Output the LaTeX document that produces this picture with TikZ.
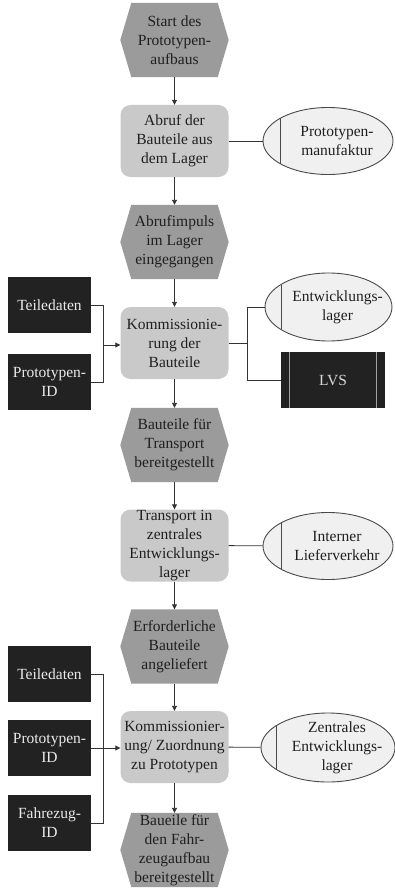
\documentclass[tikz,border=0pt]{standalone}
\usepackage{fontspec}
\setmainfont{Liberation Serif}
\usetikzlibrary{arrows.meta,backgrounds,shapes.geometric}
\definecolor{evgray}{HTML}{9B9B9B}
\definecolor{fngray}{HTML}{C9C9C9}
\definecolor{orgfill}{HTML}{F0F0F0}
\definecolor{orgline}{HTML}{4A4A4A}
\definecolor{datafill}{HTML}{222222}
\definecolor{wirecol}{HTML}{333333}
% hexagonal event shape drawn around a (borderless) rectangular node
\newcommand{\evhex}[1]{\fill[evgray] (#1.west) -- ([xshift=11pt]#1.north west) -- ([xshift=-11pt]#1.north east) -- (#1.east) -- ([xshift=-11pt]#1.south east) -- ([xshift=11pt]#1.south west) -- cycle;}
% vertical divider inside an organisation ellipse
\newcommand{\orgbar}[3]{\draw[orgline,line width=0.9pt] ([xshift=#2pt,yshift=#3pt]#1.west) -- ([xshift=#2pt,yshift=-#3pt]#1.west);}
\begin{document}
\begin{tikzpicture}[x=1pt,y=-1pt,
  font=\fontsize{15.5}{19}\selectfont,
  txt/.style={align=center,inner sep=0pt,text=black!88},
  event/.style={txt,minimum width=108pt,minimum height=74pt},
  func/.style={txt,fill=fngray,rounded corners=10pt,minimum width=108pt,minimum height=72pt},
  org/.style={ellipse,draw=orgline,line width=0.9pt,fill=orgfill,minimum width=130pt,minimum height=67pt,inner sep=0pt},
  data/.style={align=center,fill=datafill,text=white!92!black,minimum width=83pt,minimum height=56pt,inner sep=0pt},
  wire/.style={draw=wirecol,line width=0.9pt},
  flow/.style={wire,-{Triangle[length=5pt,width=5pt]}}
]
\useasboundingbox (0,0) rectangle (395,888);

% main process chain
\node[event] (e1) at (174.5,40)    {Start des\\Prototypen-\\aufbaus};
\node[func]  (f1) at (174.5,141)   {Abruf der\\Bauteile aus\\dem Lager};
\node[event] (e2) at (174.5,242)   {Abrufimpuls\\im Lager\\eingegangen};
\node[func]  (f2) at (174.5,343)   {Kommissionie-\\rung der\\Bauteile};
\node[event] (e3) at (174.5,445)   {Bauteile für\\Transport\\bereitgestellt};
\node[func]  (f3) at (174.5,545.5) {Transport in\\zentrales\\Entwicklungs-\\lager};
\node[event] (e4) at (174.5,646.5) {Erforderliche\\Bauteile\\angeliefert};
\node[func]  (f4) at (174.5,747)   {Kommissionier-\\ung/ Zuordnung\\zu Prototypen};
\node[event] (e5) at (174.5,850)   {Baueile für\\den Fahr-\\zeugaufbau\\bereitgestellt};

\begin{scope}[on background layer]
  \evhex{e1}\evhex{e2}\evhex{e3}\evhex{e4}\evhex{e5}
\end{scope}

\draw[flow] (e1) -- (f1);
\draw[flow] (f1) -- (e2);
\draw[flow] (e2) -- (f2);
\draw[flow] (f2) -- (e3);
\draw[flow] (e3) -- (f3);
\draw[flow] (f3) -- (e4);
\draw[flow] (e4) -- (f4);
\draw[flow] (f4) -- (e5);

% organisational units
\node[org] (o1) at (328,141) {};
\orgbar{o1}{18}{23}
\node[txt] (o1t) at ([xshift=9pt]o1.center) {Prototypen-\\manufaktur};

\node[org,minimum width=127pt,minimum height=68pt] (o2) at (328.5,307) {};
\orgbar{o2}{17}{22}
\node[txt] (o2t) at ([xshift=9pt]o2.center) {Entwicklungs-\\lager};

\node[org] (o3) at (328,546) {};
\orgbar{o3}{19}{23}
\node[txt] (o3t) at ([xshift=9pt]o3.center) {Interner\\Lieferverkehr};

\node[org,minimum width=134pt,minimum height=69pt] (o4) at (328,747.5) {};
\orgbar{o4}{16}{22}
\node[txt] (o4t) at ([xshift=9pt]o4.center) {Zentrales\\Entwicklungs-\\lager};

\draw[wire] (f1) -- (o1);
\draw[wire] (f3) -- (o3);
\draw[wire] (f4) -- (o4);

% information objects, first picking step
\node[data] (t1) at (49.5,305) {Teiledaten};
\node[data] (p1) at (49.5,382) {Prototypen-\\ID};
\coordinate (j1) at (103,345);
\draw[wire] (t1.east) -| (j1);
\draw[wire] (p1.east) -| (j1);
\draw[flow] (j1) -- (j1 -| f2.west);

% application system and storage on the right
\node[data,minimum width=104pt,text=white!85!black] (lvs) at (333,380) {LVS};
\draw[gray!75,line width=1.3pt] ([xshift=9pt]lvs.north west) -- ([xshift=9pt]lvs.south west);
\draw[gray!75,line width=1.3pt] ([xshift=-9pt]lvs.north east) -- ([xshift=-9pt]lvs.south east);
\coordinate (r1) at (247,343);
\draw[wire] (f2.east) -- (r1);
\draw[wire] (r1) |- (o2.west);
\draw[wire] (r1) |- (lvs.west);

% information objects, final assignment step
\node[data] (t2) at (49.5,674) {Teiledaten};
\node[data] (p2) at (49.5,748) {Prototypen-\\ID};
\node[data] (fz) at (49.5,823) {Fahrezug-\\ID};
\coordinate (j2) at (103,674);
\coordinate (j3) at (103,823);
\draw[wire] (t2.east) -- (j2) -- (j3) -- (fz.east);
\draw[flow] (p2.east) -- (p2.east -| f4.west);
\end{tikzpicture}
\end{document}
